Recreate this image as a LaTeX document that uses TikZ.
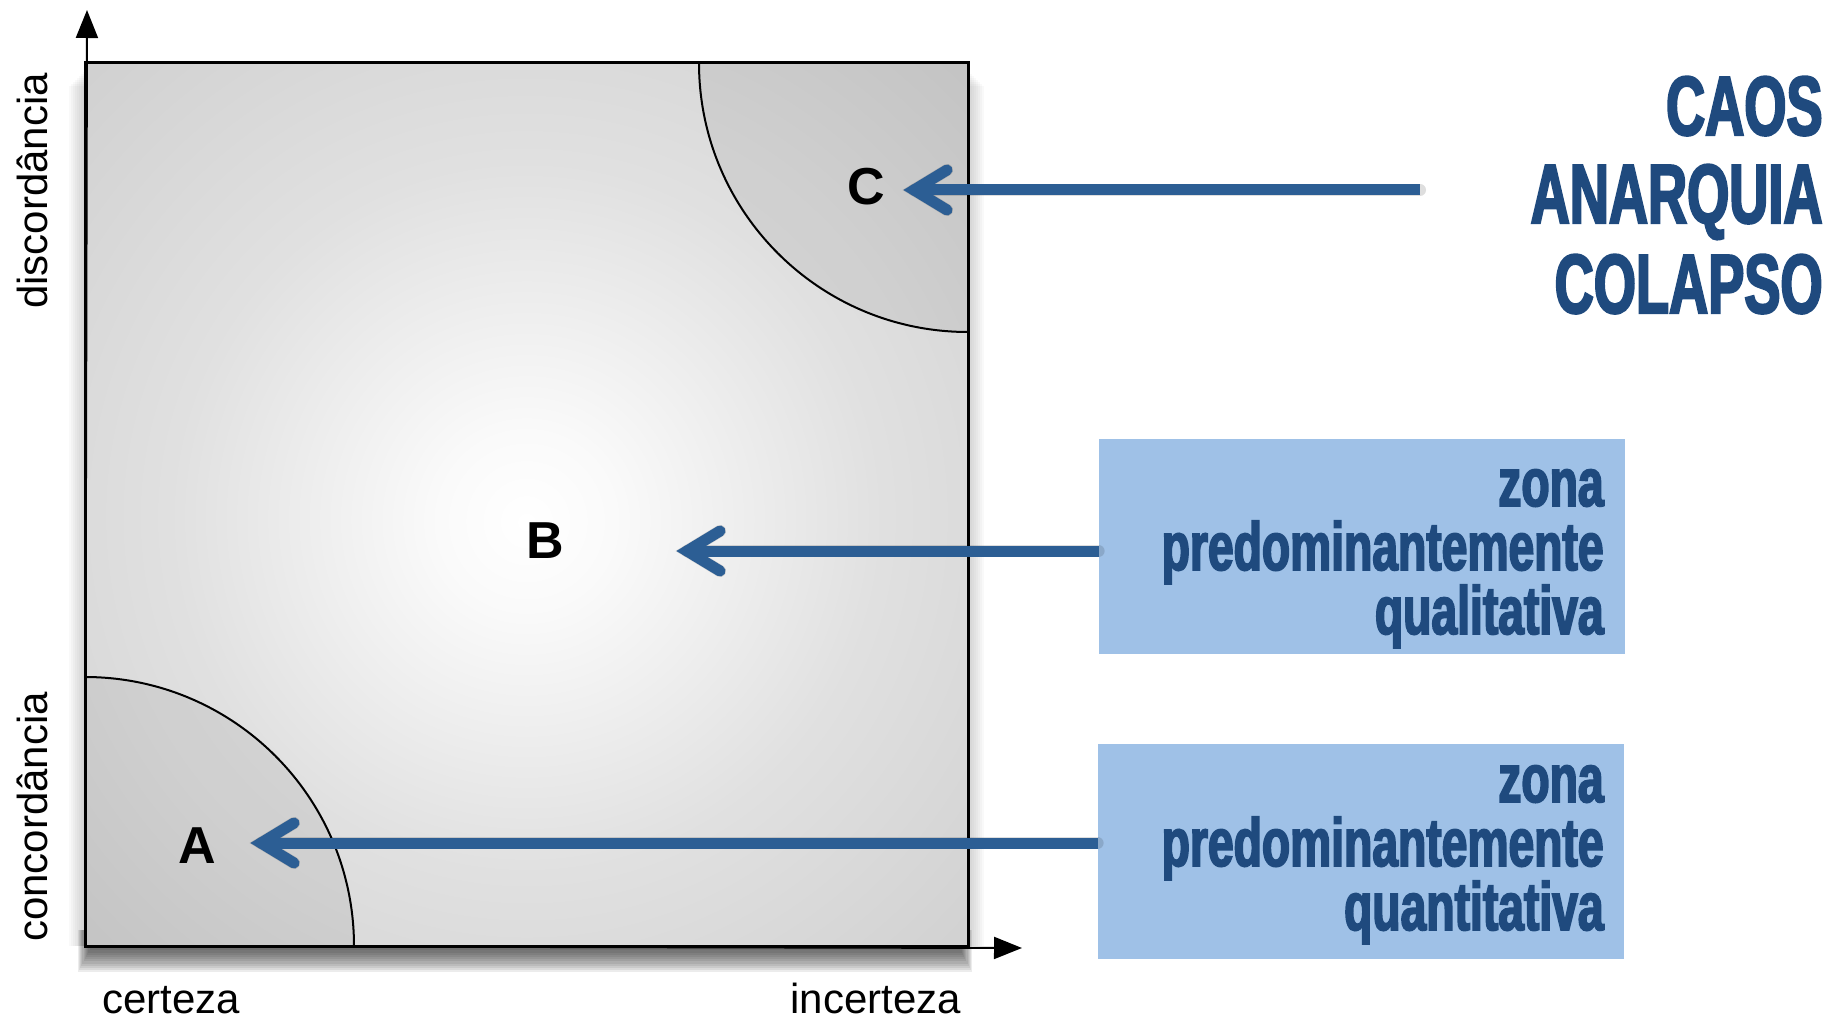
\documentclass[tikz,border=0pt]{standalone}
\usepackage{fontspec}
\setmainfont{Liberation Sans}
\newfontfamily\condfont{Liberation Sans}[FakeStretch=0.68,FakeBold=2.5]
\newfontfamily\bigcondfont{Liberation Sans}[FakeStretch=0.645,FakeBold=2.5]
\usetikzlibrary{arrows.meta,calc}
\definecolor{arrowblue}{HTML}{2C5E94}
\definecolor{textblue}{HTML}{1F4A7E}
\definecolor{boxblue}{HTML}{9FC1E7}
\pgfdeclareradialshading{fieldshade}{\pgfpoint{0bp}{-1bp}}{color(0bp)=(white); color(5bp)=(white!98!black); color(20bp)=(white!88!black); color(50bp)=(white!76!black); color(72bp)=(white!70!black)}
\tikzset{
  field/.style={draw=black, line width=1.5pt, shading=fieldshade, minimum size=441.5pt, inner sep=0pt, outer sep=0pt},
  zonefill/.style={fill=black, fill opacity=0.06},
  zoneline/.style={draw=black, line width=1pt},
  axisline/.style={draw=black, line width=1pt, -{Triangle[length=14pt,width=11pt]}},
  axislabel/.style={font=\fontsize{21}{25}\selectfont, inner sep=0pt},
  letter/.style={font=\bfseries\fontsize{26}{30}\selectfont, inner sep=0pt},
  arrowline/.style={draw=arrowblue, line width=5.5pt, line cap=butt},
  arrowhead/.style={draw=arrowblue, line width=5.5pt, line cap=round, line join=miter},
  arrowshade/.style={draw=black, draw opacity=0.13, line width=6pt, line cap=round},
  zonebox/.style={fill=boxblue, minimum width=263pt, minimum height=107.5pt, inner sep=0pt},
  zonetext/.style={font=\condfont\bfseries\fontsize{34}{38}\selectfont, text=textblue, inner sep=0pt, anchor=base east},
  bigtext/.style={font=\bigcondfont\bfseries\fontsize{42}{46}\selectfont, text=textblue, inner sep=0pt, anchor=base east}
}
\begin{document}
\begin{tikzpicture}[x=0.5pt,y=-0.5pt]
\useasboundingbox (0,0) rectangle (1843,1022);
% soft shadow of the square: faint sides, strong bottom
\foreach \d in {1,...,8}
  \fill[black,opacity=0.022] (85-2*\d,70+2*\d) rectangle (968+2*\d,946);
\foreach \d in {1,...,12}
  \fill[black,opacity=0.075] (92-1.2*\d,930) rectangle (958+1.2*\d,946+2.2*\d);
% square field
\node[field] (field) at (526.5,504.5) {};
% corner zones
\fill[zonefill] (field.south west) ++(0,-269) arc[start angle=-90,end angle=0,radius=269] -- (field.south west) -- cycle;
\fill[zonefill] (field.north east) ++(-269,0) arc[start angle=180,end angle=90,radius=269] -- (field.north east) -- cycle;
\draw[zoneline] (field.south west) ++(0,-269) arc[start angle=-90,end angle=0,radius=269];
\draw[zoneline] (field.north east) ++(-269,0) arc[start angle=180,end angle=90,radius=269];
% axes
\coordinate (yend) at (87,10);
\coordinate (xend) at (1022,948);
\draw[axisline] (field.south west) -- (yend);
\draw[axisline] (field.south west) -- (xend);
% axis labels
\node[axislabel, anchor=base west] (certeza) at (102,1013) {certeza};
\node[axislabel, anchor=base west] (incerteza) at (790,1013) {incerteza};
\node[axislabel, rotate=90, anchor=south] (disc) at (48,191) {discordância};
\node[axislabel, rotate=90, anchor=south] (conc) at (48,817) {concordância};
% zone letters
\node[letter] (A) at (197,846) {A};
\node[letter] (B) at (545,541) {B};
\node[letter] (C) at (866,187) {C};
% boxes
\node[zonebox] (qual) at (1362,546.5) {};
\node[zonebox] (quant) at (1361,851.5) {};
\node[zonetext] (q1) at (1604,506) {zona};
\node[zonetext] (q2) at (1604,570) {predominantemente};
\node[zonetext] (q3) at (1604,634) {qualitativa};
\node[zonetext] (n1) at (1604,802) {zona};
\node[zonetext] (n2) at (1604,866) {predominantemente};
\node[zonetext] (n3) at (1604,930) {quantitativa};
% chaos text
\node[bigtext] (caos) at (1823,135) {CAOS};
\node[bigtext] (anarq) at (1823,223) {ANARQUIA};
\node[bigtext] (colap) at (1823,313) {COLAPSO};
% arrows
\coordinate (tipC) at (914,190);
\coordinate (tipB) at (687,551);
\coordinate (tipA) at (261,843);
\coordinate (tailC) at (1420,190);
\begin{scope}[shift={(1pt,-2pt)}]
\draw[arrowshade] (tailC) -- (tipC);
\draw[arrowshade] ($(tipC)+(33,-20)$) -- (tipC) -- ($(tipC)+(33,20)$);
\draw[arrowshade] (qual.west |- tipB) -- (tipB);
\draw[arrowshade] ($(tipB)+(33,-20)$) -- (tipB) -- ($(tipB)+(33,20)$);
\draw[arrowshade] (quant.west |- tipA) -- (tipA);
\draw[arrowshade] ($(tipA)+(33,-20)$) -- (tipA) -- ($(tipA)+(33,20)$);
\end{scope}
\draw[arrowline] (tailC) -- (tipC);
\draw[arrowhead] ($(tipC)+(33,-20)$) -- (tipC) -- ($(tipC)+(33,20)$);
\draw[arrowline] (qual.west |- tipB) -- (tipB);
\draw[arrowhead] ($(tipB)+(33,-20)$) -- (tipB) -- ($(tipB)+(33,20)$);
\draw[arrowline] (quant.west |- tipA) -- (tipA);
\draw[arrowhead] ($(tipA)+(33,-20)$) -- (tipA) -- ($(tipA)+(33,20)$);
\end{tikzpicture}
\end{document}
